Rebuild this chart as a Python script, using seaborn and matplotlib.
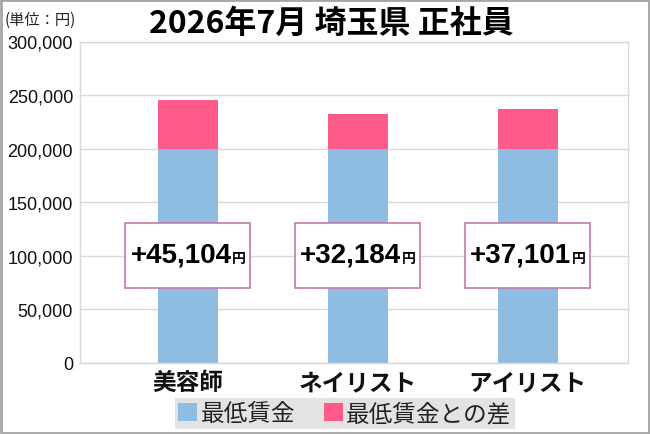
import matplotlib
matplotlib.use("Agg")
import matplotlib.pyplot as plt
import matplotlib.patches as mpatches
from matplotlib.ticker import FuncFormatter
import seaborn as sns
import pandas as pd

# ---- data ----
categories = ["美容師", "ネイリスト", "アイリスト"]
min_wage = [200000, 200000, 200000]
diff = [45104, 32184, 37101]
diff_labels = ["+45,104", "+32,184", "+37,101"]
yticks = [0, 50000, 100000, 150000, 200000, 250000, 300000]
title = "2026年7月 埼玉県 正社員"
unit_label = "(単位：円)"
legend_labels = ["最低賃金", "最低賃金との差"]

BLUE = "#8fbde1"
PINK = "#fe5a8a"
BOX_EDGE = "#c47aa8"
GRID = "#d9d9d9"

sns.set_theme(style="white")
CJK = ["Noto Sans CJK JP", "DejaVu Sans"]
plt.rcParams["font.family"] = CJK

df = pd.DataFrame({
    "cat": categories,
    "base": min_wage,
    "total": [b + d for b, d in zip(min_wage, diff)],
})

fig = plt.figure(figsize=(6.5, 4.35), dpi=100)
fig.patch.set_facecolor("white")
ax = fig.add_axes([80 / 650, 1 - 364 / 435, (628 - 80) / 650, (364 - 42.5) / 435])

bw = 60 / 170
sns.barplot(data=df, x="cat", y="total", color=PINK, saturation=1, width=bw, ax=ax,
            zorder=2, linewidth=0, edgecolor="none")
sns.barplot(data=df, x="cat", y="base", color=BLUE, saturation=1, width=bw, ax=ax,
            zorder=2, linewidth=0, edgecolor="none")

ax.set_xlim(-0.635, 2.59)
ax.set_ylim(0, 300000)
ax.set_yticks(yticks)
ax.yaxis.set_major_formatter(FuncFormatter(lambda v, p: f"{int(v):,}"))
ax.set_xlabel("")
ax.set_ylabel("")
ax.grid(axis="y", color=GRID, linewidth=1.0, zorder=0)
ax.set_axisbelow(True)
for s in ax.spines.values():
    s.set_visible(True)
    s.set_color(GRID)
    s.set_linewidth(1.0)
ax.tick_params(axis="y", length=0, pad=5, labelsize=13, labelcolor="#111111")
ax.tick_params(axis="x", length=0, pad=5, labelcolor="#111111")
for t in ax.get_yticklabels():
    t.set_fontfamily(["Liberation Sans", "DejaVu Sans"])
for t in ax.get_xticklabels():
    t.set_fontsize(17)
    t.set_fontweight("bold")
    t.set_fontfamily(CJK)

# difference boxes
for i, lab in enumerate(diff_labels):
    rect = mpatches.Rectangle((i - 0.372, 70000), 0.738, 60500, facecolor="white",
                              edgecolor=BOX_EDGE, linewidth=1.2, zorder=4)
    ax.add_patch(rect)
    main = ax.annotate(lab, xy=(i, 100000), xytext=(-5, 1), textcoords="offset points",
                       ha="center", va="center", fontsize=20, fontweight="bold",
                       family=["Liberation Sans", "DejaVu Sans"],
                       color="#000000", zorder=5)
    ax.annotate("円", xy=(1, 0), xycoords=main, xytext=(0.5, 2.0), textcoords="offset points",
                ha="left", va="bottom", fontsize=10, fontweight="bold", family=CJK,
                color="#000000", zorder=5)

# title and unit
fig.text(331 / 650, 1 - 24 / 435, title, ha="center", va="center", fontsize=23,
         fontweight="bold", family=CJK, color="#000000")
fig.text(5 / 650, 1 - 20 / 435, unit_label, ha="left", va="center", fontsize=11,
         family=CJK, color="#222222")

# legend
handles = [mpatches.Patch(facecolor=BLUE, edgecolor="none"),
           mpatches.Patch(facecolor=PINK, edgecolor="none")]
leg = fig.legend(handles, legend_labels, loc="center", bbox_to_anchor=(345 / 650, 1 - 414.5 / 435),
                 ncol=2, frameon=True, fancybox=False, facecolor="#e3e3e3", edgecolor="none",
                 framealpha=1, prop={"family": CJK, "size": 17}, handlelength=0.8,
                 handleheight=0.8, handletextpad=0.15, columnspacing=1.2, borderpad=0.15,
                 borderaxespad=0)
for t in leg.get_texts():
    t.set_color("#222222")

# outer border
fig.patches.append(mpatches.Rectangle((0.0015, 0.002), 0.997, 0.996, transform=fig.transFigure,
                                      fill=False, edgecolor="#a6a6a6", linewidth=2))

fig.savefig("out.png", dpi=100)
